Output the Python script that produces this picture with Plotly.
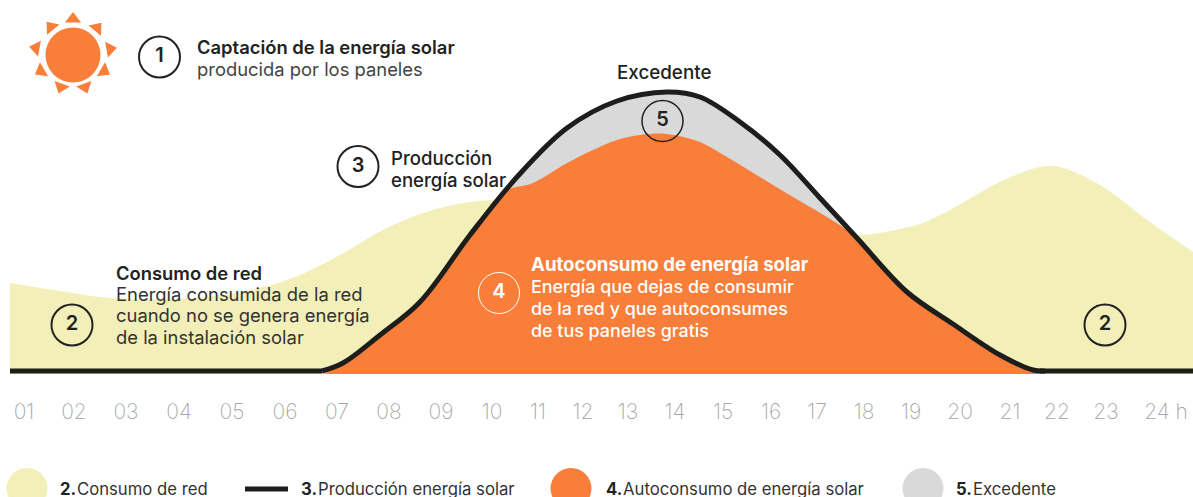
import plotly.graph_objects as go

# horizontal position of each point along the day; heights above the baseline
hour_labels = ["01","02","03","04","05","06","07","08","09","10","11","12","13","14","15","16","17","18","19","20","21","22","23","24 h"]
hour_pos = [24,74,126,179,232,285,337,389,441,492,538,583,628,675,723,771,817,864,911,960,1010,1057,1106,1166]

consumo_x = [10,60,110,170,230,290,340,387,440,497,600,750,857,890,920,950,1000,1040,1060,1100,1150,1193]
consumo_y = [91,83,76,75,80,95,119,146,166,174,165,150,139,143,150,164,192,207,207,189,152,122]

base_left_x = [10,322]
base_right_x = [1040,1193]
base_y = [3,3]

solar_x = [322,343,380,420,470,517,567,617,667,700,740,780,820,857,907,953,1000,1033,1045]
solar_y = [3,11,39,72,139,197,246,273,282,277,252,219,176,136,82,50,19,4,3]

auto_x = [325,343,380,420,470,503,533,567,593,617,640,667,700,727,760,793,827,847,857,907,953,1000,1033,1042]
auto_y = [0,11,39,72,139,182,191,211,224,234,239,240,232,217,197,177,157,144,136,82,50,19,4,0]

circles_x = [159.5,72,1105,358,499,662.5]
circles_y = [317,49,49,207.5,81,253]
circles_txt = ["1","2","2","3","4","5"]
circles_col = ["#222222","#222222","#222222","#222222","#ffffff","#222222"]
circles_w = [2,2,2,2,1,1.5]

sun_x = 73
sun_y = 319
ray_x = [73,97,110,104,85,61,41,36,51]
ray_y = [355,346,325,303,287,287,303,326,347]
ray_angle = [0,40,80,120,160,200,240,280,320]

leg_x = [27,571,923]
leg_y = [-114.5,-114.5,-114.5]
leg_col = ["#f2f0b8","#f97e3a","#d9d9d9"]
leg_num_x = [60,301,606,956]
leg_num = ["2.","3.","4.","5."]
leg_txt_x = [77,318,623,973]
leg_txt = ["Consumo de red","Producción energía solar","Autoconsumo de energía solar","Excedente"]

YEL, ORA, GRY, BLK = "#f2f0b8", "#f97e3a", "#d9d9d9", "#1d1d1b"
F = "Inter"

fig = go.Figure()
fig.add_scatter(x=consumo_x, y=consumo_y, mode="lines", line=dict(color=YEL, width=0, shape="spline"), fill="tozeroy", fillcolor=YEL, hoverinfo="skip")
fig.add_scatter(x=solar_x, y=solar_y, mode="lines", line=dict(color=GRY, width=0, shape="spline"), fill="tozeroy", fillcolor=GRY, hoverinfo="skip")
fig.add_scatter(x=auto_x, y=auto_y, mode="lines", line=dict(color=ORA, width=0, shape="spline"), fill="tozeroy", fillcolor=ORA, hoverinfo="skip")
fig.add_scatter(x=solar_x, y=solar_y, mode="lines", line=dict(color=BLK, width=5, shape="spline"), hoverinfo="skip")
fig.add_scatter(x=base_left_x, y=base_y, mode="lines", line=dict(color=BLK, width=5), hoverinfo="skip")
fig.add_scatter(x=base_right_x, y=base_y, mode="lines", line=dict(color=BLK, width=5), hoverinfo="skip")

fig.add_scatter(x=[sun_x], y=[sun_y], mode="markers", marker=dict(size=55, color=ORA), hoverinfo="skip")
fig.add_scatter(x=ray_x, y=ray_y, mode="markers", marker=dict(size=14, color=ORA, symbol="triangle-up", angle=ray_angle), hoverinfo="skip")
fig.add_scatter(x=circles_x, y=circles_y, mode="markers+text", text=circles_txt, textposition="middle center",
                textfont=dict(family=F, size=20, weight=600, color=circles_col),
                marker=dict(size=41, color="rgba(0,0,0,0)", line=dict(color=circles_col, width=circles_w)), hoverinfo="skip")
fig.add_scatter(x=leg_x, y=leg_y, mode="markers", marker=dict(size=41, color=leg_col), hoverinfo="skip")
fig.add_scatter(x=[245,288], y=[-115,-115], mode="lines", line=dict(color=BLK, width=5), hoverinfo="skip")

def t(x, y, s, size=18.4, color="#222222", weight=400):
    fig.add_annotation(x=x, y=y, xref="x", yref="y", text=s, showarrow=False, xanchor="left", yanchor="middle",
                       align="left", font=dict(family=F, size=size, color=color, weight=weight), xshift=-2)

t(197,327,"Captación de la energía solar",weight=600)
t(197,305,"producida por los paneles",color="#444444")
t(617,302,"Excedente",weight=500,size=18.8)
t(391,216,"Producción",weight=500,size=18.6)
t(391,194,"energía solar",weight=500,size=18.6)
t(116,101,"Consumo de red",weight=600)
t(116,80,"Energía consumida de la red",color="#333333")
t(116,59,"cuando no se genera energía",color="#333333")
t(116,37,"de la instalación solar",color="#333333")
t(531,110,"Autoconsumo de energía solar",color="#ffffff",weight=700,size=18.6)
t(531,88,"Energía que dejas de consumir",color="#ffffff",weight=500,size=17.9)
t(531,66,"de la red y que autoconsumes",color="#ffffff",weight=500,size=17.9)
t(531,44,"de tus paneles gratis",color="#ffffff",weight=500,size=17.9)
for xn, n, xl, l in zip(leg_num_x, leg_num, leg_txt_x, leg_txt):
    t(xn,-115,n,size=16.7,color="#222222",weight=700)
    t(xl,-115,l,size=16.7,color="#333333")

fig.update_layout(width=1193, height=497, margin=dict(l=0,r=0,t=0,b=0), showlegend=False,
                  paper_bgcolor="white", plot_bgcolor="white")
fig.update_xaxes(range=[0,1193], showgrid=False, zeroline=False, showline=False, tickmode="array",
                 tickvals=hour_pos, ticktext=hour_labels, ticks="", ticklabelstandoff=23,
                 anchor="free", position=123/497,
                 tickfont=dict(family=F, size=21, color="#a6a6a6", weight=200), tickangle=0)
fig.update_yaxes(range=[-123,374], visible=False)
fig.write_html("out.html", config=dict(displayModeBar=False), post_script="document.body.style.margin='0';")
